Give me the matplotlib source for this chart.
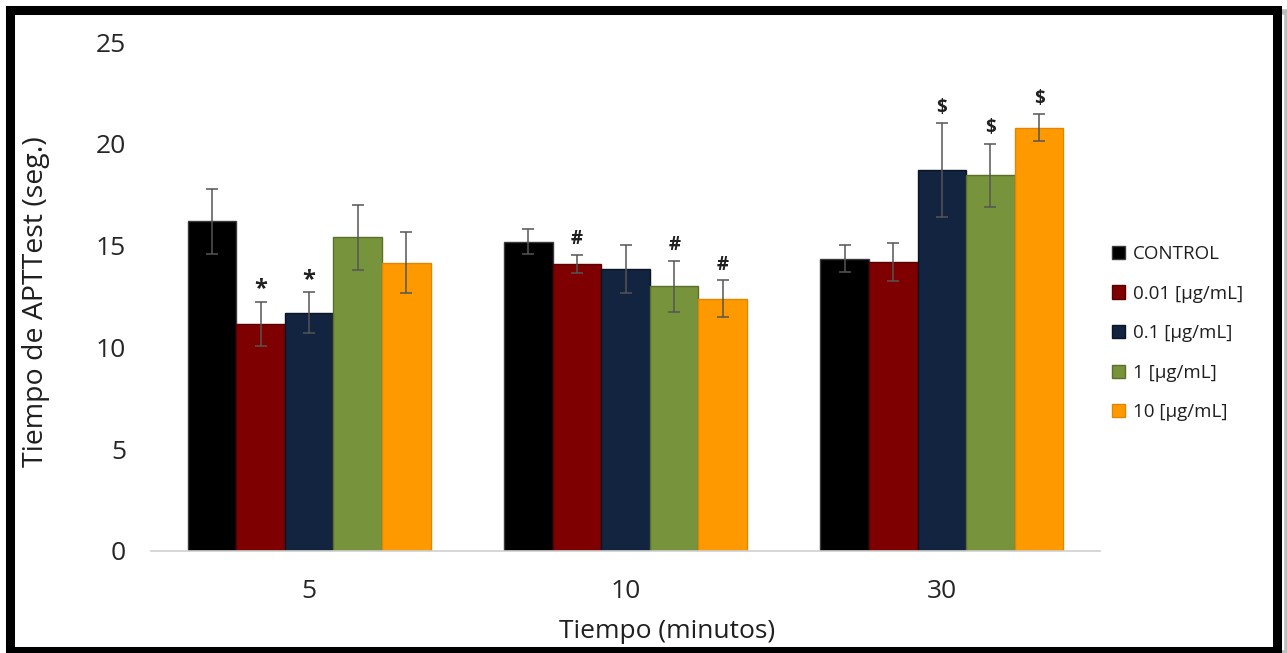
import matplotlib.pyplot as plt
import numpy as np
from matplotlib.patches import Rectangle

plt.rcParams['font.family'] = ['Open Sans', 'DejaVu Sans']

tiempos = ['5', '10', '30']
series = ['CONTROL', '0.01 [µg/mL]', '0.1 [µg/mL]', '1 [µg/mL]', '10 [µg/mL]']
colores = ['#000000', '#7f0000', '#12243f', '#77933c', '#ff9900']
bordes = ['#3a3a3a', '#5a0000', '#0a1424', '#5a7028', '#e08600']

# mean APTT (s) per series, one value per time point
medias = [
    [16.2, 15.2, 14.35],
    [11.15, 14.1, 14.2],
    [11.7, 13.85, 18.7],
    [15.4, 13.0, 18.45],
    [14.15, 12.4, 20.8],
]
errores = [
    [1.6, 0.62, 0.67],
    [1.1, 0.45, 0.95],
    [1.0, 1.2, 2.3],
    [1.6, 1.25, 1.55],
    [1.5, 0.9, 0.65],
]
# significance marks (series index, time index, symbol)
marcas = [
    (1, 0, '*'), (2, 0, '*'),
    (1, 1, '#'), (3, 1, '#'), (4, 1, '#'),
    (2, 2, '$'), (3, 2, '$'), (4, 2, '$'),
]

fig = plt.figure(figsize=(12.87, 6.53), dpi=100)
ax = fig.add_axes([151 / 1287, 1 - 551 / 653, 949 / 1287, 509 / 653])

x = np.arange(len(tiempos))
ancho = 0.1538
for i, nombre in enumerate(series):
    pos = x + (i - 2) * ancho
    ax.bar(pos, medias[i], width=ancho, color=colores[i], edgecolor=bordes[i],
           linewidth=1, label=nombre, zorder=2)
    ax.errorbar(pos, medias[i], yerr=errores[i], fmt='none', ecolor='#555555',
                elinewidth=1.1, capsize=4, capthick=1.1, zorder=3)

for i, j, s in marcas:
    xp = x[j] + (i - 2) * ancho
    yp = medias[i][j] + errores[i][j]
    tam = 17 if s == '*' else 13.5
    dy = 0 if s == '*' else 4
    ax.annotate(s, (xp, yp), xytext=(0, dy), textcoords='offset points',
                ha='center', va='bottom', fontsize=tam, fontweight='bold',
                color='#202020')

ax.set_xlim(-0.5, 2.5)
ax.set_ylim(0, 25)
ax.set_yticks([0, 5, 10, 15, 20, 25])
ax.set_xticks(x)
ax.set_xticklabels(tiempos)
ax.tick_params(axis='both', length=0, labelsize=19, colors='#262626')
ax.tick_params(axis='y', pad=18)
ax.tick_params(axis='x', pad=20)
for lado in ['top', 'right', 'left']:
    ax.spines[lado].set_visible(False)
ax.spines['bottom'].set_color('#d0d0d0')
ax.spines['bottom'].set_linewidth(1.2)

fig.text(36 / 1287, 1 - 302 / 653, 'Tiempo de APTTest (seg.)', rotation=90,
         ha='center', va='center', fontsize=20.5, color='#1f1f1f')
fig.text(667 / 1287, 1 - 632 / 653, 'Tiempo (minutos)', ha='center',
         va='center', fontsize=19, color='#1f1f1f')

ax.legend(loc='center left', bbox_to_anchor=(0.995, 0.428), frameon=False,
          fontsize=13.5, handlelength=0.7, handleheight=0.7, handletextpad=0.4,
          labelspacing=1.15, labelcolor='#1f1f1f')

# picture frame with a light shadow
fig.patches.append(Rectangle((12 / 1287, 0), 1275 / 1287, 1 - 12 / 653,
                             transform=fig.transFigure, facecolor='none',
                             edgecolor='#bdbdbd', linewidth=4, zorder=0))
fig.patches.append(Rectangle((9.5 / 1287, 1 - 651 / 653), 1267 / 1287, 641.5 / 653,
                             transform=fig.transFigure, facecolor='none',
                             edgecolor='black', linewidth=6.5, zorder=1))

fig.savefig('out.png', dpi=100)
